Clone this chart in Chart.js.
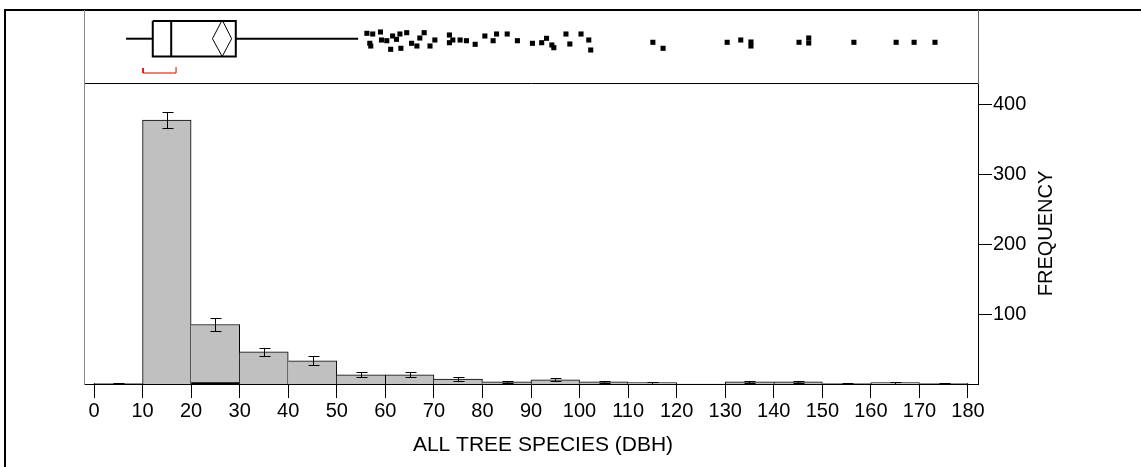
<!DOCTYPE html>
<html>
<head>
<meta charset="utf-8">
<script src="https://cdn.jsdelivr.net/npm/chart.js@4.4.1/dist/chart.umd.min.js"></script>
<style>
  html, body { margin: 0; padding: 0; background: #fff; }
  #wrap { position: relative; width: 1141px; height: 467px; overflow: hidden; }
  #frame { position: absolute; left: 4px; top: 9px; width: 1137px; height: 458px;
           border-top: 2px solid #000; border-left: 2px solid #000; box-sizing: border-box; }
  canvas { position: absolute; left: 0; }
  #hist { top: 0; }
  #box { top: 0; }
</style>
</head>
<body>
<div id="wrap">
  <div id="frame"></div>
  <canvas id="hist" width="1141" height="467"></canvas>
  <canvas id="box" width="1141" height="90"></canvas>
</div>
<script>
// histogram bins (DBH classes, width 10)
const binStarts = [0, 10, 20, 30, 40, 50, 60, 70, 80, 90, 100, 110, 120, 130, 140, 150, 160, 170];
const counts    = [1, 377, 85, 46, 33, 13, 13, 7, 3, 6, 3, 2, 0, 3, 3, 1, 2, 1];
const errors    = [0.6, 11.5, 9, 6, 6.4, 3.5, 3.5, 2.6, 1.7, 2.4, 1.7, 1.4, 0, 1.7, 1.7, 1, 1.4, 1];
const binWidth = 10;

const xTicks = [0, 10, 20, 30, 40, 50, 60, 70, 80, 90, 100, 110, 120, 130, 140, 150, 160, 170, 180];
const yTicks = [100, 200, 300, 400];

// outlier box plot: whisker low, Q1, median, Q3, whisker high
const boxStats = [6.6, 12.1, 15.9, 29.2, 54.4];
// mean diamond: lower 95%, mean, upper 95%
const meanDiamond = [24.4, 26.4, 28.35];
// shortest half bracket
const shortestHalf = [10.1, 16.9];

// points beyond the upper whisker, with their vertical jitter
const outliers = [56.2, 56.8, 57.4, 57.0, 59.0, 59.2, 60.3, 61.1, 61.5, 62.3, 63.0, 63.2, 64.4, 65.4,
  66.5, 67.1, 68.0, 69.2, 70.2, 73.2, 73.2, 73.9, 75.4, 76.7, 78.5, 80.5, 82.2, 82.9, 85.1, 87.2,
  90.3, 92.2, 93.2, 94.3, 94.7, 97.2, 98.0, 100.3, 101.9, 102.3,
  115.1, 117.2, 130.4, 133.2, 135.3, 135.3, 145.2, 147.2, 147.2, 156.5, 165.2, 168.9, 173.2];
const outlierJitter = [23.3, 33.3, 24, 36, 22, 30, 30.7, 39.3, 26, 29.3, 24, 38.3, 22.7, 33.3,
  36, 28, 22.7, 36, 30, 25, 32.7, 30, 30, 30.7, 34.3, 26, 30.7, 24, 24, 30.7,
  33.3, 32.7, 28.3, 35, 37.7, 24, 34, 24, 30, 40,
  32.3, 38.3, 32.3, 30, 32, 36, 32.3, 28, 33, 32.3, 32.3, 32.3, 32.3];

const xTitle = 'ALL TREE SPECIES (DBH)';
const yTitle = 'FREQUENCY';

const FONT = '"Liberation Sans", Arial, Helvetica, sans-serif';
const xMin = -2.06, xMax = 182.06;

Chart.defaults.font.family = FONT;
Chart.defaults.color = '#000';

//===================== HISTOGRAM ==========================

const errorBars = {
  id: 'errorBars',
  afterDatasetsDraw(chart) {
    const {ctx, scales: {x, y}} = chart;
    ctx.save();
    ctx.strokeStyle = '#000';
    ctx.lineWidth = 1;
    binStarts.forEach((b, i) => {
      const px = Math.round(x.getPixelForValue(b + binWidth / 2)) + 0.5;
      const hi = Math.round(y.getPixelForValue(counts[i] + errors[i])) + 0.5;
      const lo = Math.round(y.getPixelForValue(Math.max(0, counts[i] - errors[i]))) + 0.5;
      ctx.beginPath();
      ctx.moveTo(px, hi); ctx.lineTo(px, lo);
      ctx.moveTo(px - 5, hi); ctx.lineTo(px + 6, hi);
      ctx.moveTo(px - 5, lo); ctx.lineTo(px + 6, lo);
      ctx.stroke();
    });
    ctx.restore();
  }
};

const axisTitles = {
  id: 'axisTitles',
  afterDraw(chart) {
    const {ctx, chartArea: a} = chart;
    ctx.save();
    ctx.fillStyle = '#000';
    ctx.font = '21px ' + FONT;
    ctx.textAlign = 'center';
    ctx.textBaseline = 'middle';
    ctx.fillText(xTitle, (a.left + a.right) / 2 + 12, 445);
    ctx.font = '20px ' + FONT;
    ctx.translate(1046, (a.top + a.bottom) / 2);
    ctx.rotate(-Math.PI / 2);
    ctx.fillText(yTitle, 0, 0);
    ctx.restore();
  }
};

// each shared edge drawn once, by the taller neighbour
function barBorder(c) {
  const i = c.dataIndex, v = counts[i];
  return {
    top: 1,
    left: (i === 0 || counts[i - 1] <= v) ? 1 : 0,
    right: (i === counts.length - 1 || counts[i + 1] < v) ? 1 : 0,
    bottom: i === 2 ? 2 : 0
  };
}

const histChart = new Chart(document.getElementById('hist'), {
  type: 'bar',
  data: {
    datasets: [{
      data: binStarts.map((b, i) => ({x: b + binWidth / 2, y: counts[i]})),
      backgroundColor: '#c0c0c0',
      borderColor: '#000',
      borderWidth: barBorder,
      borderSkipped: false,
      barPercentage: 1,
      categoryPercentage: 1,
      xAxisID: 'x',
      yAxisID: 'y'
    }]
  },
  options: {
    responsive: false,
    animation: false,
    events: [],
    layout: {padding: {left: 84, top: 83, right: 0, bottom: 0}},
    plugins: {legend: {display: false}, tooltip: {enabled: false}},
    scales: {
      x: {
        type: 'linear', position: 'bottom', min: xMin, max: xMax, offset: false,
        afterBuildTicks: s => { s.ticks = xTicks.map(v => ({value: v})); },
        afterFit: s => { s.height = 83; },
        grid: {drawOnChartArea: false, offset: false, tickLength: 14, color: '#000'},
        border: {color: '#000'},
        ticks: {color: '#000', font: {size: 20}, padding: 1, maxRotation: 0, autoSkip: false,
                callback: v => String(v)}
      },
      xTop: {
        type: 'linear', position: 'top', min: xMin, max: xMax, offset: false,
        ticks: {display: false}, grid: {display: false},
        border: {color: '#000'},
        afterFit: s => { s.height = 0; }
      },
      y: {
        type: 'linear', position: 'right', min: 0, max: 430,
        afterBuildTicks: s => { s.ticks = yTicks.map(v => ({value: v})); },
        afterFit: s => { s.width = 163; },
        grid: {drawOnChartArea: false, tickLength: 14, color: '#000'},
        border: {color: '#000'},
        ticks: {color: '#000', font: {size: 20}, padding: 1}
      },
      yLeft: {
        type: 'linear', position: 'left', min: 0, max: 430,
        ticks: {display: false}, grid: {display: false},
        border: {color: '#888'},
        afterFit: s => { s.width = 0; }
      }
    }
  },
  plugins: [errorBars, axisTitles]
});

//===================== BOX PLOT ==========================

// vertical layout of the box panel, in px from its top
const MID = 28.7, TOP = 11, BOT = 46.5;
const [wLo, q1, med, q3, wHi] = boxStats;
const [ciLo, mean, ciHi] = meanDiamond;

function lineSet(points, color, width) {
  return {
    type: 'scatter',
    data: points.map(p => ({x: p[0], y: p[1]})),
    showLine: true,
    borderColor: color,
    borderWidth: width,
    pointRadius: 0,
    fill: false,
    tension: 0
  };
}

const boxChart = new Chart(document.getElementById('box'), {
  type: 'scatter',
  data: {
    datasets: [
      lineSet([[wLo, MID], [q1, MID]], '#000', 2),
      lineSet([[q3, MID], [wHi, MID]], '#000', 2),
      lineSet([[q1, TOP], [q3, TOP], [q3, BOT], [q1, BOT], [q1, TOP]], '#000', 2),
      lineSet([[med, TOP], [med, BOT]], '#000', 2),
      lineSet([[ciLo, MID], [mean, TOP - 1], [ciHi, MID], [mean, BOT], [ciLo, MID]], '#000', 1),
      lineSet([[shortestHalf[0], 58], [shortestHalf[0], 63], [shortestHalf[1], 63], [shortestHalf[1], 57]], '#e00000', 1),
      {
        type: 'scatter',
        data: outliers.map((v, i) => ({x: v, y: outlierJitter[i]})),
        pointStyle: 'rect',
        pointRadius: 3.6,
        backgroundColor: '#000',
        borderColor: '#000',
        borderWidth: 0
      }
    ]
  },
  options: {
    responsive: false,
    animation: false,
    events: [],
    layout: {padding: {left: 84, top: 10, right: 163, bottom: 7}},
    plugins: {legend: {display: false}, tooltip: {enabled: false}},
    scales: {
      x: {type: 'linear', min: xMin, max: xMax, display: false},
      y: {
        type: 'linear', position: 'left', min: 0, max: 73, reverse: true,
        ticks: {display: false}, grid: {display: false},
        border: {color: '#888'},
        afterFit: s => { s.width = 0; }
      },
      yR: {
        type: 'linear', position: 'right', min: 0, max: 73, reverse: true,
        ticks: {display: false}, grid: {display: false},
        border: {color: '#666'},
        afterFit: s => { s.width = 0; }
      }
    }
  }
});
</script>
</body>
</html>
